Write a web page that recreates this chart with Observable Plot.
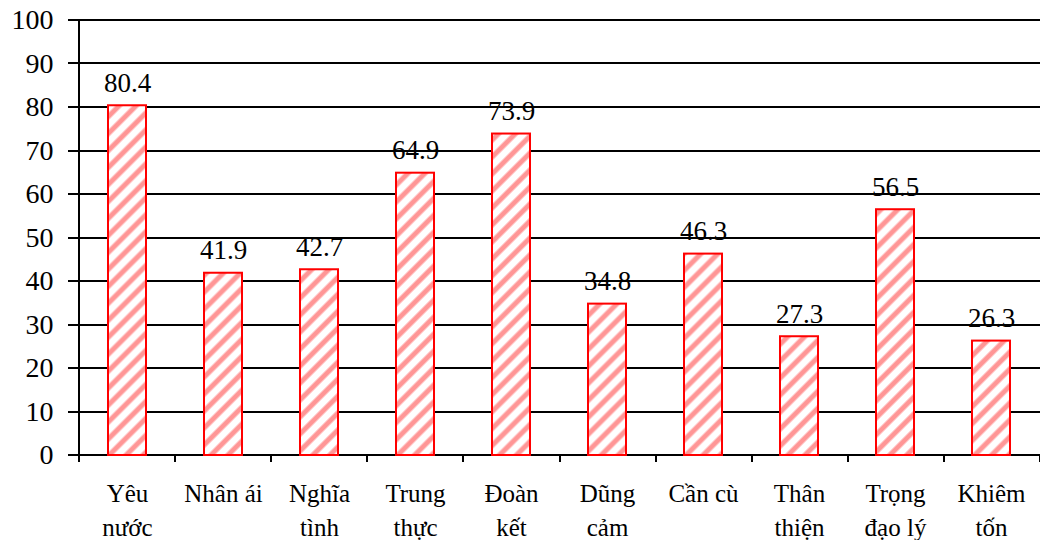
<!DOCTYPE html>
<html>
<head>
<meta charset="utf-8">
<script src="https://cdn.jsdelivr.net/npm/d3@7"></script>
<script src="https://cdn.jsdelivr.net/npm/@observablehq/plot@0.6"></script>
<style>
  html, body { margin: 0; padding: 0; background: white; }
</style>
</head>
<body>
<div id="chart"></div>
<script>
const categories = ["Yêu nước", "Nhân ái", "Nghĩa tình", "Trung thực", "Đoàn kết", "Dũng cảm", "Cần cù", "Thân thiện", "Trọng đạo lý", "Khiêm tốn"];
const tickLabels = ["Yêu\nnước", "Nhân ái", "Nghĩa\ntình", "Trung\nthực", "Đoàn\nkết", "Dũng\ncảm", "Cần cù", "Thân\nthiện", "Trọng\nđạo lý", "Khiêm\ntốn"];
const values = [80.4, 41.9, 42.7, 64.9, 73.9, 34.8, 46.3, 27.3, 56.5, 26.3];
const yTicks = [0, 10, 20, 30, 40, 50, 60, 70, 80, 90, 100];

const data = categories.map((c, i) => ({category: c, value: values[i]}));

function gridLines(index, scales, channels, dims) {
  const {width, marginLeft, marginRight} = dims;
  const g = d3.create("svg:g").attr("stroke", "black").attr("stroke-width", 2);
  for (const t of yTicks) {
    const y = Math.round(scales.y(t));
    g.append("line").attr("x1", marginLeft - 11).attr("x2", width - marginRight).attr("y1", y).attr("y2", y);
  }
  return g.node();
}

function axisLines(index, scales, channels, dims) {
  const {width, marginLeft, marginRight, marginTop} = dims;
  const g = d3.create("svg:g").attr("stroke", "black").attr("stroke-width", 2);
  const y0 = Math.round(scales.y(0));
  g.append("line").attr("x1", marginLeft).attr("x2", marginLeft).attr("y1", marginTop).attr("y2", y0 + 7);
  const step = (width - marginLeft - marginRight) / categories.length;
  for (let i = 1; i <= categories.length; i++) {
    const x = Math.round(marginLeft + i * step);
    g.append("line").attr("x1", x).attr("x2", x).attr("y1", y0).attr("y2", y0 + 7);
  }
  return g.node();
}

const serif = "Liberation Serif";

const chart = Plot.plot({
  width: 1040,
  height: 540,
  marginLeft: 79,
  marginRight: 0,
  marginTop: 20,
  marginBottom: 85,
  style: {fontFamily: serif, fontSize: "27px", color: "black", background: "white"},
  x: {domain: categories, paddingInner: 0.6, paddingOuter: 0.3, label: null},
  y: {domain: [0, 100], label: null},
  marks: [
    gridLines,
    Plot.barY(data, {x: "category", y: "value", fill: "url(#stripes)", stroke: "#ff0000", strokeWidth: 2}),
    Plot.text(data, {x: "category", y: "value", text: d => d.value.toFixed(1), dy: -14, lineAnchor: "bottom", fontSize: 27, fontFamily: serif, fill: "black"}),
    Plot.axisY(yTicks, {tickSize: 0, tickPadding: 26, fontSize: 28, fontFamily: serif, label: null}),
    Plot.axisX({tickSize: 0, tickPadding: 23, fontSize: 25, fontFamily: serif, lineHeight: 1.35, tickFormat: c => tickLabels[categories.indexOf(c)], label: null}),
    axisLines
  ]
});

const defs = d3.create("svg:defs");
const pat = defs.append("pattern")
  .attr("id", "stripes")
  .attr("patternUnits", "userSpaceOnUse")
  .attr("width", 12)
  .attr("height", 12)
  .attr("patternTransform", "rotate(45)");
pat.append("rect").attr("width", 12).attr("height", 12).attr("fill", "white");
pat.append("rect").attr("x", 0).attr("width", 6).attr("height", 12).attr("fill", "#ffc8c8");
pat.append("rect").attr("x", 1).attr("width", 4).attr("height", 12).attr("fill", "#ff9696");
chart.insertBefore(defs.node(), chart.firstChild);

document.getElementById("chart").appendChild(chart);
</script>
</body>
</html>
